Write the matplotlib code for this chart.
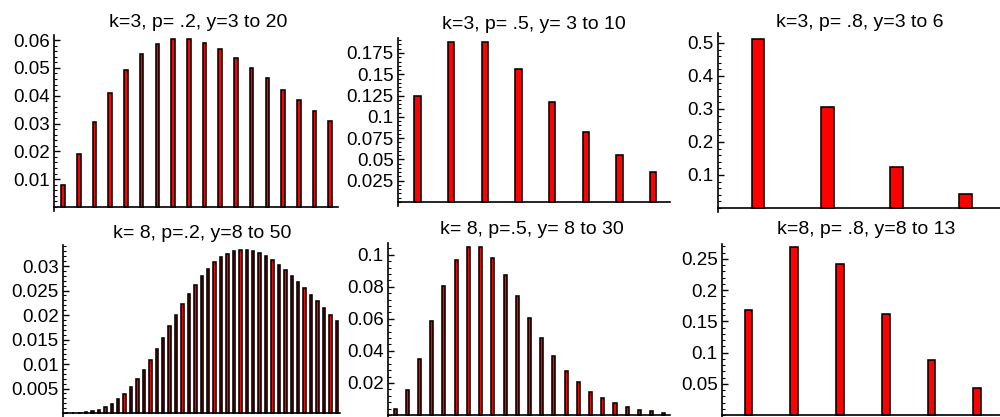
import numpy as np
import matplotlib
matplotlib.use('Agg')
import matplotlib.pyplot as plt
from matplotlib.ticker import FixedLocator, AutoMinorLocator

plt.rcParams['font.family'] = ['Liberation Sans', 'DejaVu Sans']

# negative binomial probabilities
p1 = [0.0080, 0.0192, 0.0307, 0.0410, 0.0492, 0.0551, 0.0587, 0.0604, 0.0604,
      0.0591, 0.0567, 0.0536, 0.0500, 0.0462, 0.0422, 0.0383, 0.0345, 0.0308]
p2 = [0.125, 0.1875, 0.1875, 0.1563, 0.1172, 0.0820, 0.0547, 0.0352]
p3 = [0.512, 0.3072, 0.1229, 0.0410]
p4 = [0.0000026, 0.0000164, 0.000059, 0.000157, 0.000346, 0.000664, 0.00115,
      0.00184, 0.00276, 0.00393, 0.00535, 0.00700, 0.00886, 0.01091, 0.01309,
      0.01536, 0.01767, 0.01995, 0.02217, 0.02427, 0.02621, 0.02796, 0.02948,
      0.03076, 0.03179, 0.03255, 0.03305, 0.03330, 0.03330, 0.03307, 0.03263,
      0.03200, 0.03120, 0.03025, 0.02918, 0.02802, 0.02677, 0.02547, 0.02413,
      0.02277, 0.02140, 0.02004, 0.01871]
p5 = [0.0039, 0.0156, 0.0352, 0.0586, 0.0806, 0.0967, 0.1047, 0.1047, 0.0982,
      0.0873, 0.0742, 0.0607, 0.0481, 0.0370, 0.0277, 0.0203, 0.0146, 0.0103,
      0.0072, 0.0049, 0.0033, 0.0022, 0.0015]
p6 = [0.1678, 0.2684, 0.2416, 0.1611, 0.0886, 0.0425]

titles = ["k=3, p= .2, y=3 to 20", "k=3, p= .5, y= 3 to 10", "k=3, p= .8, y=3 to 6",
          "k= 8, p=.2, y=8 to 50", "k= 8, p=.5, y= 8 to 30", "k=8, p= .8, y=8 to 13"]
yticks = [[0.01, 0.02, 0.03, 0.04, 0.05, 0.06],
          [0.025, 0.05, 0.075, 0.1, 0.125, 0.15, 0.175],
          [0.1, 0.2, 0.3, 0.4, 0.5],
          [0.005, 0.01, 0.015, 0.02, 0.025, 0.03],
          [0.02, 0.04, 0.06, 0.08, 0.1],
          [0.05, 0.1, 0.15, 0.2, 0.25]]
ytop = [0.0618, 0.1926, 0.530, 0.0343, 0.1073, 0.2738]
series = [p1, p2, p3, p4, p5, p6]
widths = [0.23, 0.185, 0.184, 0.38, 0.25, 0.17]

# pixel boxes: left, right, bottom(y of zero line), top
W, H = 1000, 417
boxes = [(54, 338, 207, 35), (398, 670, 202, 38), (718, 1000, 208, 33),
         (63, 340, 413, 245), (388, 670, 415, 243), (722, 1000, 415, 244)]
title_pos = [(198, 27), (534, 29), (860, 27), (202, 238), (532, 234), (866, 234)]
below = 4  # y axis runs a little below zero

fig = plt.figure(figsize=(10, 4.17), dpi=100)

for i in range(6):
    l, r, b, t = boxes[i]
    ax = fig.add_axes([l / W, 1 - (b + below) / H, (r - l) / W, (b + below - t) / H])
    vals = series[i]
    n = len(vals)
    x = np.arange(1, n + 1)
    ax.bar(x, vals, width=widths[i], color='#ff0000', edgecolor='black', linewidth=1.15)
    ax.set_xlim(0.42, n + 0.5)
    ax.set_ylim(-ytop[i] * below / (b - t), ytop[i])
    for s in ['top', 'right']:
        ax.spines[s].set_visible(False)
    ax.spines['left'].set_linewidth(1.2)
    ax.spines['bottom'].set_linewidth(1.2)
    ax.spines['bottom'].set_position(('data', 0))
    ax.set_xticks([])
    ax.yaxis.set_major_locator(FixedLocator(yticks[i]))
    ax.set_yticklabels(["%g" % v for v in yticks[i]], fontsize=13.5)
    ax.yaxis.set_minor_locator(AutoMinorLocator(5))
    ax.tick_params(axis='y', which='major', direction='in', length=4, width=1, pad=3)
    ax.tick_params(axis='y', which='minor', direction='in', length=2, width=0.8)
    tx, ty = title_pos[i]
    fig.text(tx / W, 1 - ty / H, titles[i], ha='center', va='baseline', fontsize=14)

plt.savefig('out.png', dpi=100)
